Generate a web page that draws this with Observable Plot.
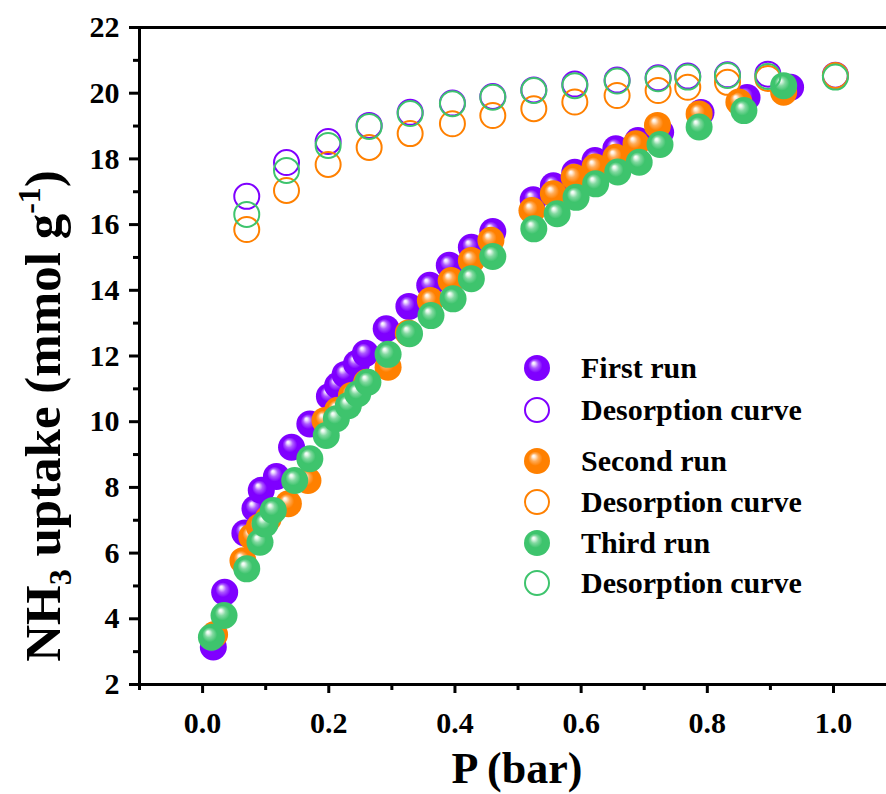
<!DOCTYPE html>
<html><head><meta charset="utf-8">
<script src="https://cdn.jsdelivr.net/npm/d3@7"></script>
<script src="https://cdn.jsdelivr.net/npm/@observablehq/plot@0.6"></script>
<style>
body{margin:0;background:#fff}
#chart{position:relative;width:886px;height:794px}
</style>
</head><body><div id="chart"></div>
<script>
// ---------- data ----------
const legendLabels = ["First run","Desorption curve","Second run","Desorption curve","Third run","Desorption curve"];
const colors = ["#7f00ff","#ff8000","#3ec46d"];
const xTicks = [0.0,0.2,0.4,0.6,0.8,1.0];
const xMinor = [-0.1,0.1,0.3,0.5,0.7,0.9,1.1];
const yTicks = [2,4,6,8,10,12,14,16,18,20,22];
const yMinor = [3,5,7,9,11,13,15,17,19,21];

const run1P = [0.017,0.035,0.067,0.083,0.093,0.117,0.141,0.170,0.201,0.214,0.226,0.244,0.258,0.291,0.327,0.360,0.391,0.426,0.460,0.524,0.556,0.590,0.622,0.655,0.690,0.726,0.790,0.863,0.932];
const run1U = [3.14,4.81,6.61,7.35,7.91,8.33,9.22,9.93,10.77,11.10,11.44,11.77,12.08,12.83,13.51,14.15,14.76,15.31,15.79,16.76,17.18,17.59,17.95,18.31,18.56,18.81,19.41,19.87,20.18];

const run2P = [0.019,0.064,0.078,0.090,0.104,0.136,0.167,0.194,0.214,0.236,0.260,0.294,0.326,0.361,0.394,0.426,0.457,0.522,0.556,0.589,0.622,0.655,0.687,0.721,0.787,0.850,0.921];
const run2U = [3.52,5.77,6.50,6.80,7.05,7.50,8.21,10.04,10.35,10.80,11.20,11.66,12.70,13.69,14.30,14.91,15.52,16.43,16.94,17.44,17.75,18.05,18.46,19.02,19.37,19.73,20.03];

const run3P = [0.014,0.034,0.070,0.091,0.099,0.112,0.146,0.170,0.196,0.212,0.231,0.246,0.262,0.294,0.328,0.362,0.397,0.426,0.460,0.525,0.562,0.592,0.623,0.658,0.692,0.725,0.787,0.858,0.921];
const run3U = [3.44,4.10,5.52,6.33,6.89,7.30,8.21,8.87,9.58,10.09,10.49,10.85,11.20,12.05,12.68,13.23,13.74,14.35,15.03,15.87,16.33,16.83,17.24,17.60,17.90,18.44,18.97,19.47,20.23];

const desP  = [0.070,0.133,0.199,0.264,0.329,0.396,0.460,0.525,0.590,0.657,0.722,0.769,0.832,0.896,1.003];
const des1U = [16.86,17.89,18.53,19.02,19.42,19.70,19.90,20.10,20.28,20.40,20.47,20.52,20.56,20.58,20.55];
const des2U = [15.85,17.04,17.83,18.35,18.77,19.07,19.32,19.53,19.73,19.93,20.08,20.18,20.33,20.45,20.54];
const des3U = [16.31,17.65,18.41,18.99,19.38,19.68,19.88,20.08,20.23,20.37,20.44,20.49,20.54,20.51,20.49];

// ---------- build ----------
const zip = (P, U) => P.map((p, i) => ({p, u: U[i]}));
const ads = [zip(run1P, run1U), zip(run2P, run2U), zip(run3P, run3U)];
const des = [zip(desP, des1U), zip(desP, des2U), zip(desP, des3U)];

const FONT = "'Liberation Serif','Times New Roman',serif";
const marks = [];
for (let i = 0; i < 3; i++) {
  marks.push(Plot.dot(ads[i], {x: "p", y: "u", r: 13.5, fill: colors[i], stroke: "none"}));
  marks.push(Plot.dot(des[i], {x: "p", y: "u", r: 12.5, fill: "none", stroke: colors[i], strokeWidth: 2}));
}

const plot = Plot.plot({
  width: 886, height: 794,
  marginLeft: 139, marginTop: 27, marginBottom: 110, marginRight: 0,
  style: {fontFamily: FONT, background: "#fff", overflow: "visible"},
  x: {domain: [-0.1, 1.084], label: null},
  y: {domain: [2, 22], label: null},
  marks: [
    ...marks,
    Plot.ruleY([22], {stroke: "#000", strokeWidth: 3}),
    Plot.ruleY([2], {stroke: "#000", strokeWidth: 3}),
    Plot.ruleX([-0.1], {stroke: "#000", strokeWidth: 3}),
    Plot.axisX(xTicks, {tickSize: 9, tickPadding: 18, strokeWidth: 3, fontSize: 30, fontWeight: "bold", fontFamily: FONT, fill: "#000", stroke: "#000", tickFormat: d => d.toFixed(1), label: null}),
    Plot.axisX(xMinor, {tickSize: 6, strokeWidth: 3, stroke: "#000", tickFormat: () => "", label: null}),
    Plot.axisY(yTicks, {tickSize: 10, tickPadding: 10, strokeWidth: 3, fontSize: 30, fontWeight: "bold", fontFamily: FONT, fill: "#000", stroke: "#000", label: null}),
    Plot.axisY(yMinor, {tickSize: 6, strokeWidth: 3, stroke: "#000", tickFormat: () => "", label: null})
  ]
});
document.getElementById("chart").appendChild(plot);

// gradients for spheres
const svg = d3.select(plot);
const defs = svg.insert("defs", ":first-child");
colors.forEach((c, i) => {
  const g = defs.append("radialGradient").attr("id", "sph" + i)
    .attr("cx", 0.5).attr("cy", 0.5).attr("r", 0.5).attr("fx", 0.36).attr("fy", 0.3);
  g.append("stop").attr("offset", "0%").attr("stop-color", "#ffffff");
  g.append("stop").attr("offset", "10%").attr("stop-color", d3.interpolateRgb("#ffffff", c)(0.12));
  g.append("stop").attr("offset", "30%").attr("stop-color", d3.interpolateRgb("#ffffff", c)(0.65));
  g.append("stop").attr("offset", "55%").attr("stop-color", c);
  g.append("stop").attr("offset", "100%").attr("stop-color", c);
  // apply to the filled adsorption dot groups (identified by their constant fill colour)
  svg.selectAll("g").filter(function() {
    const f = (this.getAttribute("fill") || "").toLowerCase();
    return f === c || (f && d3.color(f) && d3.color(f).formatHex() === c);
  }).each(function() {
    if (this.querySelector("circle")) {
      this.setAttribute("fill", `url(#sph${i})`);
      d3.select(this).selectAll("circle").attr("fill", `url(#sph${i})`);
    }
  });
});

// axis titles
svg.append("text").attr("x", 517).attr("y", 783).attr("text-anchor", "middle")
  .attr("font-family", FONT).attr("font-weight", "bold").attr("font-size", 44).attr("fill", "#000")
  .text("P (bar)");
const yl = svg.append("text").attr("transform", "translate(60,416) rotate(-90)").attr("text-anchor", "middle")
  .attr("font-family", FONT).attr("font-weight", "bold").attr("font-size", 51).attr("fill", "#000");
yl.append("tspan").text("NH");
yl.append("tspan").attr("font-size", 32).attr("dy", 11).text("3");
yl.append("tspan").attr("dy", -11).text(" uptake (mmol g");
yl.append("tspan").attr("font-size", 32).attr("dy", -20).text("-1");
yl.append("tspan").attr("dy", 20).text(")");

// legend
const legY = [368, 410, 461, 502, 543, 583];
const lg = svg.append("g");
legendLabels.forEach((lab, k) => {
  const ci = Math.floor(k / 2);
  if (k % 2 === 0) {
    lg.append("circle").attr("cx", 537).attr("cy", legY[k]).attr("r", 13).attr("fill", `url(#sph${ci})`);
  } else {
    lg.append("circle").attr("cx", 537).attr("cy", legY[k]).attr("r", 12).attr("fill", "none")
      .attr("stroke", colors[ci]).attr("stroke-width", 2);
  }
  lg.append("text").attr("x", 581).attr("y", legY[k] + 10).attr("text-anchor", "start").attr("font-family", FONT)
    .attr("font-weight", "bold").attr("font-size", 30).attr("fill", "#000").text(lab);
});
</script>
</body></html>
